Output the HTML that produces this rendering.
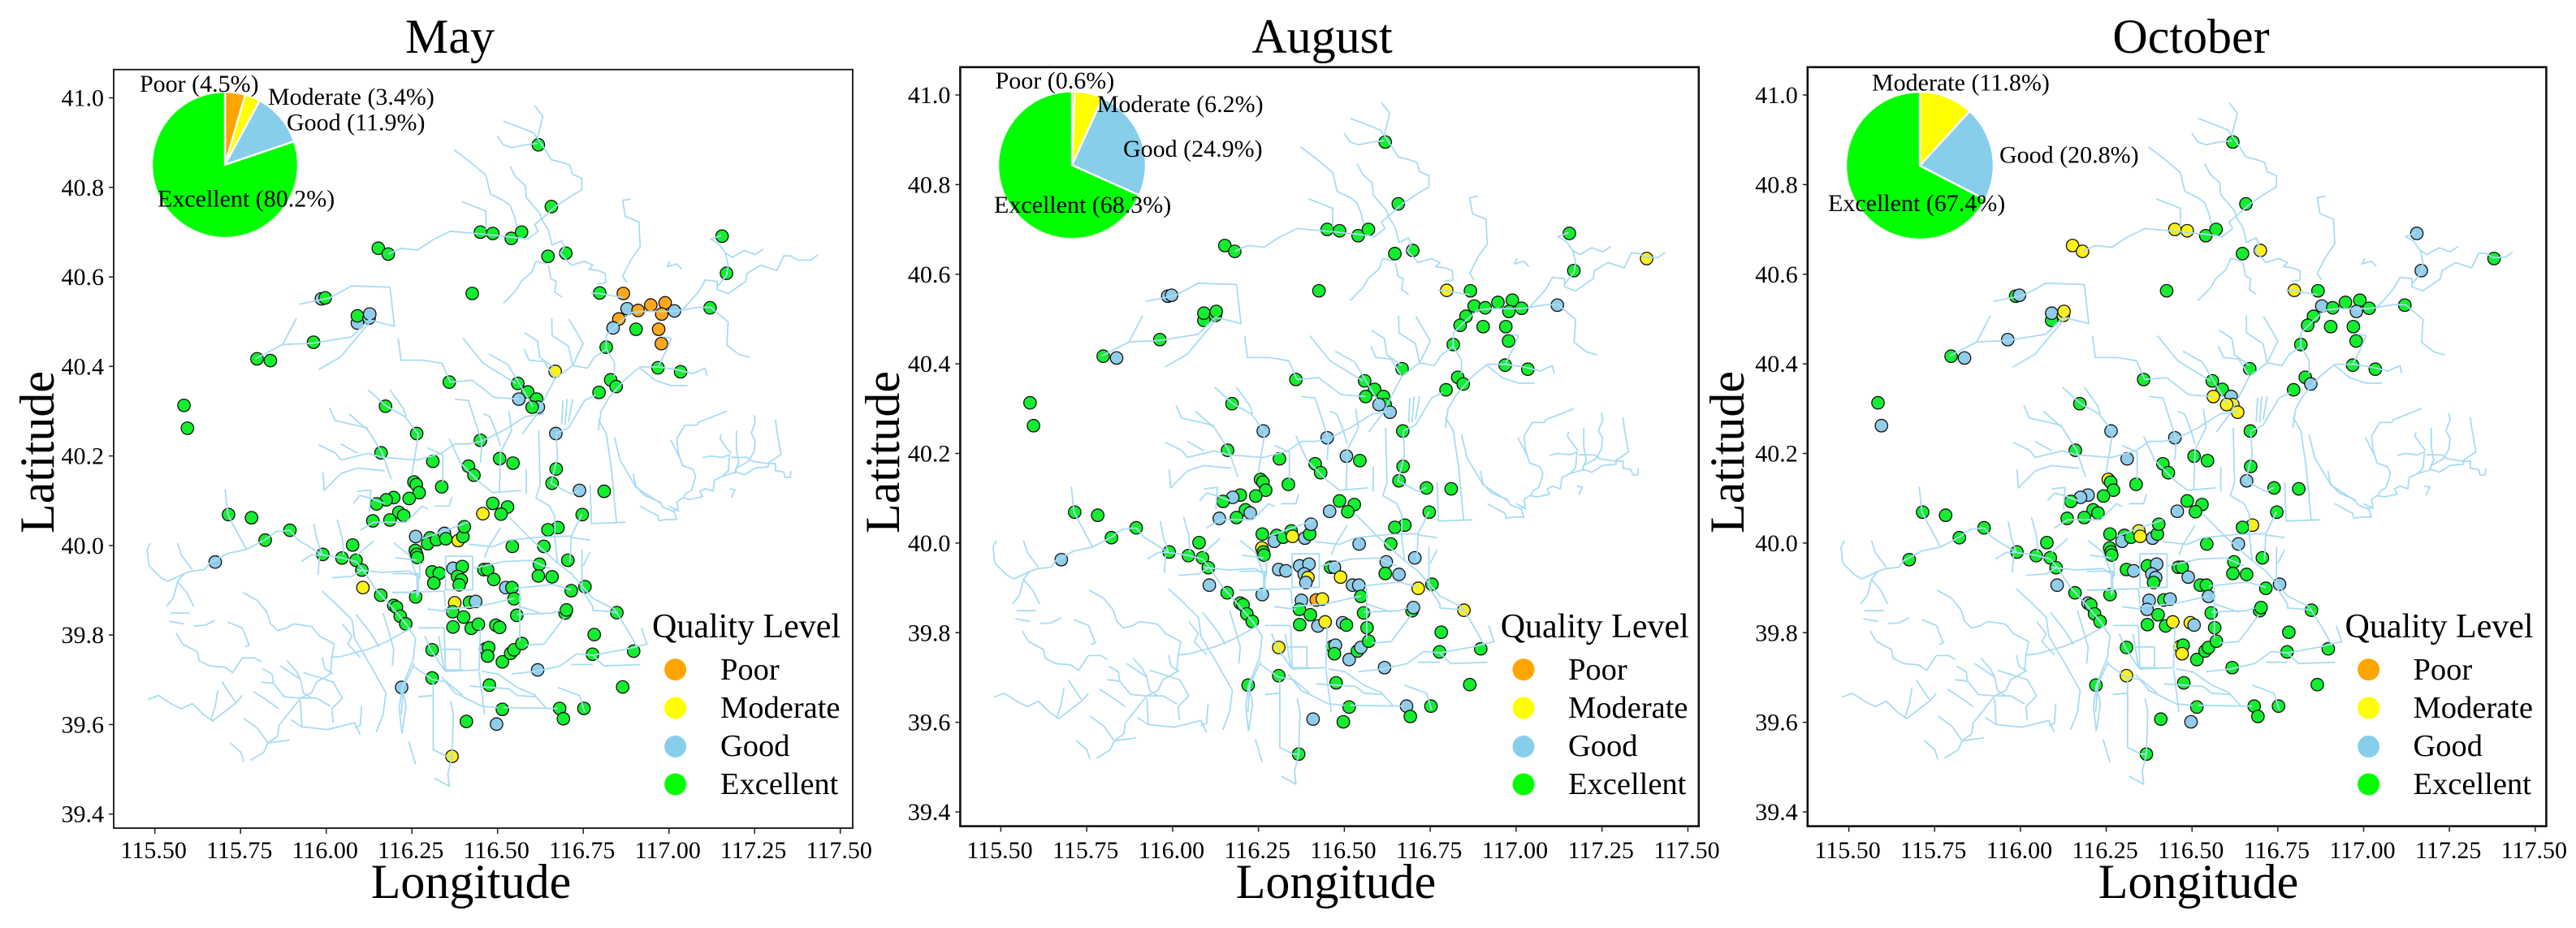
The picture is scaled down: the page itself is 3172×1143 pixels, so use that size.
<!DOCTYPE html>
<html lang="en">
<head>
<meta charset="utf-8">
<title>River water quality: May, August, October</title>
<style>
html,body{margin:0;padding:0;background:#fff;}
svg{display:block;font-family:"Liberation Serif",serif;}
</style>
</head>
<body>
<svg id="figure" xmlns="http://www.w3.org/2000/svg" width="3172" height="1143" viewBox="0 0 3172 1143">
<rect x="0" y="0" width="3172" height="1143" fill="#fff"/>

<g id="panel-may">
<text x="554" y="65" font-size="60" text-anchor="middle">May</text>
<text x="580" y="1106" font-size="60" text-anchor="middle">Longitude</text>
<text transform="translate(66 557) rotate(-90)" font-size="60" text-anchor="middle">Latitude</text>
<g>
<text x="803" y="785" font-size="42">Quality Level</text>
<circle cx="831.6" cy="824.7" r="13.5" fill="#FFA500"/>
<text x="887" y="837" font-size="38.5">Poor</text>
<circle cx="831.6" cy="872" r="13.5" fill="#FFFF00"/>
<text x="887" y="884" font-size="38.5">Moderate</text>
<circle cx="831.6" cy="919.5" r="13.5" fill="#87CEEB"/>
<text x="887" y="931" font-size="38.5">Good</text>
<circle cx="831.6" cy="966" r="13.5" fill="#00FF00"/>
<text x="887" y="978" font-size="38.5">Excellent</text>
</g>
</g>

<g id="panel-august">
<text x="1628" y="65" font-size="60" text-anchor="middle">August</text>
<text x="1645" y="1106" font-size="60" text-anchor="middle">Longitude</text>
<text transform="translate(1107 557) rotate(-90)" font-size="60" text-anchor="middle">Latitude</text>
<g>
<text x="1847.7" y="785" font-size="42">Quality Level</text>
<circle cx="1876" cy="824.7" r="13.5" fill="#FFA500"/>
<text x="1931" y="837" font-size="38.5">Poor</text>
<circle cx="1876" cy="872" r="13.5" fill="#FFFF00"/>
<text x="1931" y="884" font-size="38.5">Moderate</text>
<circle cx="1876" cy="919.5" r="13.5" fill="#87CEEB"/>
<text x="1931" y="931" font-size="38.5">Good</text>
<circle cx="1876" cy="966" r="13.5" fill="#00FF00"/>
<text x="1931" y="978" font-size="38.5">Excellent</text>
</g>
</g>

<g id="panel-october">
<text x="2698" y="65" font-size="60" text-anchor="middle">October</text>
<text x="2707" y="1106" font-size="60" text-anchor="middle">Longitude</text>
<text transform="translate(2147 557) rotate(-90)" font-size="60" text-anchor="middle">Latitude</text>
<g>
<text x="2887.5" y="785" font-size="42">Quality Level</text>
<circle cx="2916.6" cy="824.7" r="13.5" fill="#FFA500"/>
<text x="2971.5" y="837" font-size="38.5">Poor</text>
<circle cx="2916.6" cy="872" r="13.5" fill="#FFFF00"/>
<text x="2971.5" y="884" font-size="38.5">Moderate</text>
<circle cx="2916.6" cy="919.5" r="13.5" fill="#87CEEB"/>
<text x="2971.5" y="931" font-size="38.5">Good</text>
<circle cx="2916.6" cy="966" r="13.5" fill="#00FF00"/>
<text x="2971.5" y="978" font-size="38.5">Excellent</text>
</g>
</g>
</svg>

<script>
const xTickValues = [115.5,115.75,116,116.25,116.5,116.75,117,117.25,117.5];
const yTickValues = [39.4,39.6,39.8,40.0,40.2,40.4,40.6,40.8,41.0];

const stationLon = [
116.619,116.657,116.450,116.486,116.540,116.570,116.152,116.181,116.647,116.699,
117.155,117.168,116.426,116.798,116.867,116.947,116.989,116.878,116.910,116.979,
117.016,117.120,116.854,116.837,116.904,116.970,116.978,116.817,116.968,117.034,
116.668,116.830,116.846,116.796,116.559,116.588,116.562,116.614,116.619,116.601,
116.359,116.173,116.264,116.670,116.450,116.160,116.311,116.415,116.431,116.506,
116.545,116.671,115.585,115.595,115.986,115.997,116.091,116.091,116.125,116.127,
115.963,115.798,115.837,115.715,115.782,115.822,115.894,115.676,115.990,116.046,
116.077,116.087,116.104,116.107,116.159,116.197,116.205,116.216,116.232,116.261,
116.220,116.309,116.309,116.256,116.263,116.271,116.242,116.197,116.175,116.147,
116.212,116.226,116.186,116.136,116.337,116.261,116.303,116.296,116.322,116.345,
116.349,116.385,116.399,116.403,116.260,116.264,116.266,116.309,116.330,116.314,
116.370,116.397,116.383,116.394,116.388,116.460,116.471,116.489,116.524,116.542,
116.543,116.548,116.556,116.457,116.486,116.529,116.510,116.659,116.739,116.811,
116.747,116.676,116.647,116.635,116.622,116.619,116.659,116.705,116.715,116.755,
116.697,116.701,116.848,116.782,116.777,116.897,116.865,116.617,116.681,116.692,
116.752,116.514,116.497,116.409,116.367,116.476,116.375,116.418,116.436,116.369,
116.401,116.370,116.423,116.444,116.495,116.506,116.465,116.474,116.471,116.514,
116.538,116.548,116.571,117.380,116.633,116.566];

const stationLat = [
40.895,40.757,40.700,40.697,40.686,40.700,40.664,40.651,40.646,40.653,
40.691,40.608,40.563,40.564,40.563,40.537,40.542,40.529,40.525,40.517,
40.524,40.531,40.506,40.486,40.483,40.483,40.451,40.443,40.397,40.388,
40.389,40.370,40.355,40.342,40.362,40.343,40.327,40.327,40.309,40.309,
40.365,40.311,40.250,40.250,40.235,40.207,40.188,40.177,40.157,40.194,
40.184,40.171,40.313,40.262,40.551,40.553,40.497,40.513,40.508,40.517,
40.454,40.417,40.413,40.069,40.062,40.012,40.034,39.963,39.980,39.972,
40.001,39.967,39.945,39.906,39.889,39.866,39.862,39.842,39.825,39.885,
39.683,39.704,39.767,40.142,40.136,40.118,40.105,40.107,40.102,40.093,
40.074,40.067,40.057,40.055,40.131,40.020,40.017,40.004,40.013,40.027,
40.015,40.011,40.020,40.042,39.989,39.980,39.973,39.941,39.938,39.916,
39.949,39.953,39.931,39.923,39.912,39.946,39.946,39.924,39.906,39.906,
39.998,39.881,39.844,40.071,40.094,40.086,40.070,40.139,40.123,40.121,
40.069,40.040,40.035,39.998,39.958,39.932,39.930,39.967,39.899,39.908,
39.849,39.856,39.850,39.801,39.757,39.764,39.684,39.722,39.636,39.613,
39.636,39.634,39.601,39.607,39.529,39.688,39.872,39.873,39.875,39.852,
39.840,39.818,39.815,39.824,39.822,39.817,39.769,39.772,39.753,39.740,
39.759,39.767,39.781,40.635,40.292,39.811];

const mayLevels = [
'E','E','E','E','E','E','E','E','E','E',
'E','E','E','E','P','P','P','G','P','P',
'G','E','P','G','E','P','P','E','E','E',
'M','E','E','E','E','E','G','E','G','E',
'E','E','E','G','E','E','E','E','E','E',
'E','E','E','E','G','E','G','E','G','G',
'E','E','E','E','E','E','E','G','E','E',
'E','E','E','M','E','E','E','E','E','E',
'G','E','E','E','E','E','E','E','E','E',
'E','E','E','E','E','G','E','E','E','G',
'E','M','E','E','E','E','E','E','E','E',
'G','E','E','E','E','E','E','E','G','E',
'E','E','E','M','E','E','E','E','G','E',
'E','E','E','E','E','E','E','E','E','E',
'E','E','E','E','E','E','E','G','E','E',
'E','E','G','E','M','E','M','E','G','E',
'E','E','E','E','E','E','G','E','E','E',
'E','E','E','','',''];

const augLevels = [
'E','E','E','E','E','E','E','E','E','E',
'E','E','E','M','E','E','E','E','E','E',
'E','G','E','E','E','E','E','E','E','E',
'E','E','E','E','E','E','E','E','E','G',
'E','E','G','E','G','E','E','E','E','G',
'E','E','E','E','G','G','E','E','E','E',
'E','E','G','E','E','E','E','G','E','E',
'E','E','E','G','E','E','E','E','E','G',
'E','E','M','E','E','E','E','E','G','E',
'E','G','E','G','E','E','E','G','E','E',
'M','G','E','G','M','E','E','G','G','',
'G','G','G','M','G','E','G','M','G','G',
'G','E','E','G','E','E','E','E','E','E',
'E','E','E','E','G','E','G','G','M','E',
'E','G','M','E','E','E','E','G','G','E',
'E','E','E','G','E','E','G','P','M','E',
'E','E','G','M','G','E','E','G','E','G',
'E','G','E','M','G','E'];

const octLevels = [
'E','E','M','M','E','E','M','M','E','M',
'G','G','E','M','E','E','E','G','E','G',
'E','E','E','E','E','E','E','E','E','E',
'E','E','G','E','E','E','M','G','M','M',
'E','E','G','E','G','E','G','E','E','E',
'E','E','E','G','E','G','E','G','M','M',
'G','E','G','E','E','E','E','E','E','E',
'E','E','E','G','E','G','E','E','E','E',
'E','M','E','M','E','E','E','G','G','E',
'E','E','E','E','E','E','E','G','E','M',
'M','G','E','E','E','E','E','E','G','',
'E','G','G','G','E','E','E','G','E','E',
'E','G','E','G','E','E','E','G','E','E',
'E','M','E','G','E','E','E','E','E','G',
'E','E','E','E','E','E','E','E','E','E',
'E','E','G','E','E','E','G','E','G','G',
'E','E','E','M','M','G','M','E','M','E',
'E','E','E','E','M','E'];

const mayShares = [4.5,3.4,11.9,80.2];
const augShares = [0.6,6.2,24.9,68.3];
const octShares = [0,11.8,20.8,67.4];
const shareNames = ['Poor','Moderate','Good','Excellent'];

const riverPaths = [
[116.608,40.983,116.632,40.959,116.616,40.910,116.640,40.883,116.656,40.862,116.687,40.856,116.711,40.850,116.719,40.829,116.746,40.820,116.746,40.795,116.707,40.777,116.667,40.756,116.628,40.729,116.648,40.705,116.659,40.671,116.687,40.681,116.695,40.668,116.683,40.653,116.715,40.626,116.754,40.635,116.778,40.626,116.766,40.617,116.794,40.614,116.814,40.608,116.816,40.587,116.790,40.584],
[116.517,40.948,116.565,40.934,116.604,40.922,116.616,40.910],
[116.499,40.915,116.517,40.895,116.541,40.889,116.581,40.895,116.616,40.898],
[116.537,40.847,116.553,40.823,116.581,40.804,116.584,40.777,116.624,40.741,116.628,40.729],
[116.373,40.884,116.418,40.858,116.466,40.827,116.479,40.785,116.517,40.771,116.537,40.759,116.549,40.735,116.557,40.711],
[116.628,40.729,116.608,40.717,116.618,40.702,116.588,40.684,116.565,40.687,116.450,40.696,116.362,40.702,116.314,40.684,116.266,40.660,116.218,40.664,116.181,40.651],
[116.396,40.768,116.466,40.747,116.466,40.706],
[116.644,40.629,116.612,40.635,116.600,40.611,116.569,40.590,116.553,40.569,116.517,40.541],
[116.648,40.626,116.656,40.596,116.671,40.590,116.667,40.566,116.687,40.555],
[116.889,40.774,116.865,40.771,116.873,40.735,116.912,40.723,116.916,40.668,116.889,40.638,116.865,40.602,116.877,40.587],
[116.772,40.564,116.798,40.563,116.865,40.554],
[117.434,40.649,117.414,40.638,117.378,40.637,117.355,40.647,117.335,40.647,117.315,40.614,117.268,40.626,117.228,40.608,117.224,40.590,117.173,40.563,117.141,40.572,117.141,40.590,117.106,40.593,117.086,40.566,117.039,40.526,117.015,40.523,116.928,40.523,116.889,40.520,116.857,40.499,116.817,40.469,116.817,40.439,116.841,40.408,116.841,40.378],
[116.916,40.399,116.873,40.372,116.825,40.330,116.802,40.300,116.794,40.257],
[116.817,40.439,116.782,40.420,116.762,40.396,116.719,40.402,116.667,40.372],
[116.786,40.336,116.754,40.324,116.707,40.263,116.670,40.250],
[116.916,40.399,116.968,40.399,117.023,40.393,117.070,40.384,117.106,40.396,117.111,40.378],
[116.916,40.396,116.960,40.369,117.007,40.357,117.054,40.357],
[116.968,40.399,116.991,40.433,117.007,40.463,116.983,40.466],
[117.039,40.526,117.086,40.532,117.122,40.532,117.173,40.499,117.169,40.448,117.204,40.427,117.236,40.420],
[117.153,40.693,117.122,40.684,117.145,40.674,117.165,40.653,117.185,40.644,117.220,40.659,117.252,40.650,117.276,40.662],
[117.165,40.653,117.173,40.626,117.169,40.605,117.141,40.578],
[117.003,40.635,116.995,40.623,117.023,40.629,117.037,40.617],
[116.658,40.508,116.659,40.469,116.707,40.445,116.719,40.402],
[116.708,40.506,116.750,40.451,116.719,40.402],
[116.579,40.475,116.616,40.457,116.624,40.420,116.667,40.396],
[116.577,40.439,116.592,40.414,116.636,40.411,116.667,40.372],
[116.691,40.324,116.687,40.270],
[116.703,40.327,116.697,40.270],
[116.719,40.327,116.707,40.276],
[115.921,40.539,116.010,40.553,116.074,40.580,116.186,40.577,116.199,40.490,116.125,40.504,116.074,40.466,115.962,40.452,115.873,40.449,115.793,40.417],
[116.125,40.497,116.042,40.421,115.978,40.393],
[115.913,40.508,115.873,40.449],
[116.210,40.463,116.218,40.414,116.282,40.414,116.338,40.407,116.362,40.365,116.426,40.369,116.490,40.331,116.562,40.327],
[116.399,40.463,116.458,40.407,116.554,40.362],
[116.474,40.428,116.530,40.404,116.603,40.310],
[116.667,40.372,116.611,40.289,116.571,40.248],
[117.169,40.300,117.086,40.275,117.082,40.269,117.047,40.269,117.023,40.239,117.027,40.209,117.039,40.179,117.070,40.170,117.078,40.155,117.066,40.124,117.047,40.115,117.043,40.106],
[117.005,40.236,117.023,40.209,117.035,40.191],
[117.248,40.291,117.252,40.275,117.240,40.251,117.252,40.233,117.248,40.209,117.232,40.188,117.197,40.173,117.193,40.161],
[117.311,40.281,117.315,40.257,117.327,40.203,117.291,40.185,117.291,40.176,117.252,40.173,117.220,40.158,117.197,40.164,117.157,40.155,117.133,40.146,117.129,40.121,117.106,40.127,117.090,40.121,117.098,40.109,117.062,40.103,117.039,40.106,117.023,40.097,117.027,40.082,117.011,40.076],
[117.098,40.196,117.122,40.200,117.157,40.197,117.177,40.203,117.173,40.167,117.157,40.155],
[117.153,40.248,117.149,40.239,117.165,40.221,117.181,40.206],
[117.197,40.257,117.197,40.215,117.204,40.185,117.193,40.167],
[117.181,40.197,117.228,40.197,117.244,40.188,117.287,40.183,117.311,40.183,117.311,40.167,117.335,40.164,117.339,40.152,117.354,40.152,117.356,40.167],
[116.896,40.161,116.903,40.133,116.928,40.112,116.975,40.097,116.983,40.085,117.015,40.076,117.023,40.058,116.991,40.058,116.971,40.055,116.967,40.067,116.944,40.076,116.916,40.088],
[117.177,40.127,117.193,40.125,117.182,40.107],
[115.487,40.005,115.477,39.991,115.483,39.955,115.518,39.928,115.538,39.920,115.569,39.931,115.585,39.937,115.609,39.943,115.645,39.946,115.660,39.961,115.712,39.982,115.767,39.991,115.822,40.013,115.854,40.031,115.894,40.034,115.917,40.013,115.957,39.994,115.988,39.979,116.043,39.973,116.087,39.964,116.107,39.946,116.146,39.901,116.186,39.867,116.233,39.825,116.261,39.792,116.253,39.744,116.221,39.683,116.213,39.635,116.221,39.580],
[116.221,39.683,116.233,39.641,116.221,39.580],
[115.566,40.006,115.577,39.979,115.609,39.946],
[115.705,40.126,115.713,40.069,115.767,39.991],
[115.585,39.937,115.566,39.919,115.554,39.883,115.534,39.864],
[115.566,39.919,115.593,39.895,115.613,39.864],
[115.546,39.849,115.601,39.849],
[115.542,39.831,115.585,39.825],
[115.613,39.820,115.648,39.822,115.675,39.833],
[115.712,39.829,115.755,39.816,115.775,39.777,115.763,39.774],
[115.757,39.895,115.799,39.877,115.826,39.852,115.838,39.825,115.858,39.810,115.885,39.816,115.905,39.825,115.957,39.819,115.980,39.798,116.024,39.780,116.016,39.750,116.012,39.713,115.972,39.695,115.957,39.671,115.925,39.659,115.862,39.598,115.858,39.574,115.830,39.559,115.818,39.538,115.779,39.520],
[116.043,39.752,116.122,39.768,116.178,39.786,116.249,39.816],
[116.016,39.750,116.043,39.752],
[115.562,39.804,115.581,39.780,115.625,39.762,115.629,39.743,115.660,39.731,115.704,39.728,115.727,39.716,115.755,39.749,115.791,39.749,115.810,39.740],
[115.480,39.656,115.510,39.665,115.546,39.647,115.577,39.635,115.609,39.647,115.641,39.623,115.668,39.608,115.704,39.629,115.735,39.647,115.755,39.665],
[115.696,39.695,115.735,39.650],
[115.684,39.677,115.676,39.641,115.664,39.611],
[115.787,39.674,115.818,39.659,115.862,39.635],
[115.759,39.614,115.799,39.592,115.830,39.559],
[115.720,39.559,115.751,39.538,115.759,39.517],
[115.830,39.559,115.893,39.565],
[115.810,39.695,115.846,39.692,115.878,39.662,115.925,39.659,115.972,39.659,116.012,39.641],
[115.814,39.725,115.842,39.713,115.846,39.692],
[115.866,39.731,115.925,39.701,115.933,39.671,115.957,39.659],
[115.885,39.743,115.913,39.719,115.925,39.701],
[115.933,39.716,115.972,39.707,116.020,39.695,116.047,39.659,116.016,39.635,116.020,39.604],
[115.925,39.653,115.929,39.595,116.004,39.589,116.083,39.604,116.099,39.577],
[115.897,39.611,115.929,39.595],
[116.103,39.641,116.099,39.598,116.083,39.592],
[115.988,39.750,115.996,39.725,116.020,39.713],
[115.988,39.898,116.028,39.870,116.075,39.834,116.083,39.792,116.130,39.731,116.174,39.671,116.166,39.623,116.146,39.583],
[116.047,39.825,116.075,39.798,116.063,39.780,116.099,39.750],
[116.087,39.846,116.130,39.804,116.154,39.774],
[116.166,39.849,116.186,39.798,116.197,39.768,116.193,39.731],
[116.241,39.562,116.261,39.511],
[116.312,39.695,116.312,39.544,116.351,39.529,116.367,39.529,116.371,39.623,116.363,39.653],
[116.367,39.529,116.355,39.490,116.359,39.462,116.316,39.480],
[116.269,39.662,116.312,39.665],
[116.253,39.731,116.308,39.701,116.352,39.695,116.399,39.665],
[115.927,39.964,115.957,39.979,115.988,39.979],
[115.976,39.934,115.980,39.973],
[115.964,40.049,115.972,40.016,115.988,39.979],
[116.032,40.058,116.047,40.016,116.051,39.979],
[116.016,39.928,116.075,39.931,116.107,39.946],
[116.091,39.946,116.162,39.940,116.241,39.943,116.265,39.931,116.265,39.883],
[116.193,39.895,116.257,39.895],
[116.197,40.006,116.241,39.979,116.265,39.931],
[116.328,39.798,116.344,39.722,116.399,39.722],
[116.288,39.798,116.304,39.768,116.344,39.722],
[116.122,40.348,116.174,40.312,116.229,40.288,116.269,40.248,116.249,40.155],
[116.186,40.348,116.225,40.306,116.233,40.288],
[116.067,40.294,116.122,40.257,116.162,40.209,116.190,40.148],
[116.043,40.191,116.122,40.206,116.162,40.197,116.265,40.191,116.336,40.206,116.375,40.227,116.415,40.227,116.454,40.233,116.517,40.257,116.581,40.288,116.636,40.294],
[116.043,40.161,116.091,40.173,116.170,40.167],
[116.043,40.227,116.091,40.206],
[116.010,40.307,116.026,40.279,116.067,40.272,116.122,40.262],
[115.978,40.225,116.026,40.207,116.043,40.191],
[115.990,40.165,115.994,40.123,116.043,40.161],
[116.375,40.327,116.415,40.324,116.438,40.269,116.454,40.233,116.450,40.185],
[116.458,40.294,116.478,40.288,116.494,40.257,116.509,40.221],
[116.533,40.300,116.541,40.257,116.509,40.209,116.505,40.118],
[116.296,40.218,116.340,40.203,116.340,40.142],
[116.359,40.239,116.391,40.185,116.446,40.142,116.486,40.118,116.569,40.123],
[116.620,40.257,116.624,40.136,116.612,40.106,116.652,40.088,116.667,40.064,116.667,40.015,116.675,39.961],
[116.671,40.248,116.675,40.197,116.656,40.139,116.715,40.115,116.739,40.124],
[116.584,40.170,116.584,40.115],
[116.770,40.136,116.774,40.049,116.873,40.052],
[116.715,40.018,116.770,40.012],
[116.746,40.070,116.715,40.021,116.711,39.961],
[116.746,39.991,116.746,39.901,116.778,39.864,116.778,39.855,116.833,39.852,116.849,39.849],
[116.770,39.985,116.750,39.955],
[116.794,40.281,116.817,40.251,116.833,40.167,116.847,40.052],
[116.841,40.242,116.857,40.191,116.904,40.130,116.976,40.094],
[117.000,40.088,117.030,40.076],
[116.533,40.064,116.596,40.015,116.675,39.961,116.715,39.937,116.778,39.882,116.841,39.858,116.880,39.810,116.907,39.772],
[116.348,39.976,116.427,39.976,116.427,39.901,116.348,39.901,116.348,39.976],
[116.431,39.949,116.517,39.964,116.596,39.967,116.652,39.949],
[116.415,40.003,116.486,39.997,116.533,40.012,116.628,40.019,116.715,40.021],
[116.509,40.040,116.474,39.997,116.462,39.973],
[116.549,39.904,116.660,39.913,116.715,39.901],
[116.565,39.864,116.636,39.846],
[116.557,39.846,116.660,39.849,116.683,39.855],
[116.695,39.840,116.636,39.780,116.580,39.777],
[116.565,39.901,116.565,39.786],
[116.541,39.713,116.612,39.719,116.683,39.731,116.731,39.758,116.778,39.755,116.810,39.731,116.916,39.734],
[116.715,39.734,116.778,39.734],
[116.778,39.755,116.873,39.768,116.936,39.780,116.920,39.816],
[116.269,39.816,116.344,39.816,116.348,39.719,116.446,39.722,116.450,39.816],
[116.336,39.768,116.391,39.768,116.391,39.719],
[116.446,39.719,116.462,39.622],
[116.336,39.707,116.375,39.671,116.454,39.641,116.501,39.638],
[116.419,39.686,116.533,39.680,116.557,39.665,116.612,39.662,116.644,39.635],
[116.454,39.719,116.501,39.713,116.557,39.683,116.612,39.665],
[116.517,39.638,116.675,39.636],
[116.675,39.683,116.739,39.665,116.754,39.628],
[116.269,39.662,116.312,39.665,116.312,39.622],
[116.257,39.737,116.225,39.683,116.219,39.622],
[116.194,39.937,116.269,39.937,116.269,39.888],
[116.194,39.895,116.344,39.898,116.348,39.864],
[116.202,39.973,116.265,39.967],
[116.273,39.961,116.273,39.925],
[116.344,39.858,116.446,39.864,116.549,39.882],
[116.296,39.858,116.359,39.852],
[116.079,40.094,116.099,40.112,116.126,40.106,116.170,40.094],
[116.091,40.121,116.130,40.124,116.126,40.076],
[116.099,40.034,116.138,40.052,116.233,40.052,116.280,40.088,116.296,40.082],
[116.316,40.088,116.359,40.088,116.367,40.109],
[116.280,40.015,116.415,40.052],
[116.091,39.979,116.138,40.010]
];

const panelLayouts = [
{key:'may',group:'panel-may',levels:mayLevels,shares:mayShares,left:140,right:1050,top:85.7,bottom:1020,x0:190.7,xScale:422,yTop:120.5,yBottom:1002.7,frameWidth:1.8,pieX:277,pieY:203,pieR:90,labels:[[172,113],[330,129],[353,160.7],[194,254.5]]},
{key:'august',group:'panel-august',levels:augLevels,shares:augShares,left:1182.4,right:2091.8,top:82.7,bottom:1017.6,x0:1232.4,xScale:423,yTop:117,yBottom:1000,frameWidth:2.6,pieX:1320,pieY:203.4,pieR:91,labels:[[1225.6,109],[1350.7,137.8],[1383,193],[1224,262]]},
{key:'october',group:'panel-october',levels:octLevels,shares:octShares,left:2225.8,right:3135.4,top:82.7,bottom:1017.6,x0:2276.6,xScale:422.6,yTop:117,yBottom:1000,frameWidth:2.6,pieX:2364,pieY:204,pieR:91,labels:[[0,0],[2305,111.7],[2462,200.5],[2251,260]]}
];

const levelColors = {P:'#FFA81E',M:'#FFF01A',G:'#90CDEA',E:'#14EE2E'};
const pieColors = ['#FFA500','#FFFF00','#87CEEB','#00FF00'];
const NS = 'http://www.w3.org/2000/svg';

function make(tag, parent) {
  const el = document.createElementNS(NS, tag);
  parent.appendChild(el);
  return el;
}

panelLayouts.forEach(function (p) {
  const root = document.getElementById(p.group);
  const xAt = function (lon) { return p.x0 + (lon - 115.5) * p.xScale; };
  const yAt = function (lat) { return p.yTop + (41 - lat) * (p.yBottom - p.yTop) / 1.6; };

  const frame = make('rect', root);
  
  
  frame.setAttribute('x', p.left);
  frame.setAttribute('y', p.top);
  frame.setAttribute('width', p.right - p.left);
  frame.setAttribute('height', p.bottom - p.top);
  frame.setAttribute('fill', 'none');
  frame.setAttribute('stroke', '#111');
  frame.setAttribute('stroke-width', p.frameWidth);

  xTickValues.forEach(function (v) {
    const tick = make('line', root);
    
    
    tick.setAttribute('x1', xAt(v));
    tick.setAttribute('x2', xAt(v));
    tick.setAttribute('y1', p.bottom);
    tick.setAttribute('y2', p.bottom + 7);
    tick.setAttribute('stroke', '#222');
    tick.setAttribute('stroke-width', 1.5);
    const label = make('text', root);
    
    
    label.setAttribute('x', xAt(v) - 1.5);
    label.setAttribute('y', 1057);
    label.setAttribute('font-size', 30);
    label.setAttribute('text-anchor', 'middle');
    label.textContent = v.toFixed(2);
  });

  yTickValues.forEach(function (v) {
    const tick = make('line', root);
    
    
    tick.setAttribute('x1', p.left - 6);
    tick.setAttribute('x2', p.left);
    tick.setAttribute('y1', yAt(v));
    tick.setAttribute('y2', yAt(v));
    tick.setAttribute('stroke', '#222');
    tick.setAttribute('stroke-width', 1.5);
    const label = make('text', root);
    
    
    label.setAttribute('x', p.left - 12);
    label.setAttribute('y', yAt(v) + 10);
    label.setAttribute('font-size', 30);
    label.setAttribute('text-anchor', 'end');
    label.textContent = v.toFixed(1);
  });

  stationLon.forEach(function (lon, i) {
    const level = p.levels[i];
    if (!level) { return; }
    const dot = make('circle', root);
    
    
    dot.setAttribute('cx', xAt(lon));
    dot.setAttribute('cy', yAt(stationLat[i]));
    dot.setAttribute('r', 7.7);
    dot.setAttribute('fill', levelColors[level]);
    dot.setAttribute('stroke', '#111');
    dot.setAttribute('stroke-width', 1.3);
  });

  riverPaths.forEach(function (coords) {
    let d = '';
    for (let i = 0; i < coords.length; i += 2) {
      d += (i ? 'L' : 'M') + xAt(coords[i]).toFixed(1) + ' ' + yAt(coords[i + 1]).toFixed(1);
    }
    const river = make('path', root);
    
    
    river.setAttribute('d', d);
    river.setAttribute('fill', 'none');
    river.setAttribute('stroke', '#a8dcf2');
    river.setAttribute('stroke-width', 1.8);
    river.setAttribute('stroke-linejoin', 'round');
  });

  let angle = 0;
  p.shares.forEach(function (share, i) {
    if (share <= 0) { return; }
    const a0 = angle;
    const a1 = angle + share / 100 * 2 * Math.PI;
    angle = a1;
    const sx = p.pieX + p.pieR * Math.sin(a0);
    const sy = p.pieY - p.pieR * Math.cos(a0);
    const ex = p.pieX + p.pieR * Math.sin(a1);
    const ey = p.pieY - p.pieR * Math.cos(a1);
    const slice = make('path', root);
    
    
    slice.setAttribute('d', 'M' + p.pieX + ' ' + p.pieY + 'L' + sx + ' ' + sy + 'A' + p.pieR + ' ' + p.pieR + ' 0 ' + (a1 - a0 > Math.PI ? 1 : 0) + ' 1 ' + ex + ' ' + ey + 'Z');
    slice.setAttribute('fill', pieColors[i]);
    slice.setAttribute('stroke', '#fff');
    slice.setAttribute('stroke-width', 2.4);
  });

  p.shares.forEach(function (share, i) {
    if (share <= 0) { return; }
    const label = make('text', root);
    
    
    label.setAttribute('x', p.labels[i][0]);
    label.setAttribute('y', p.labels[i][1]);
    label.setAttribute('font-size', 30);
    label.textContent = shareNames[i] + ' (' + share.toFixed(1) + '%)';
  });
});
</script>
</body>
</html>
